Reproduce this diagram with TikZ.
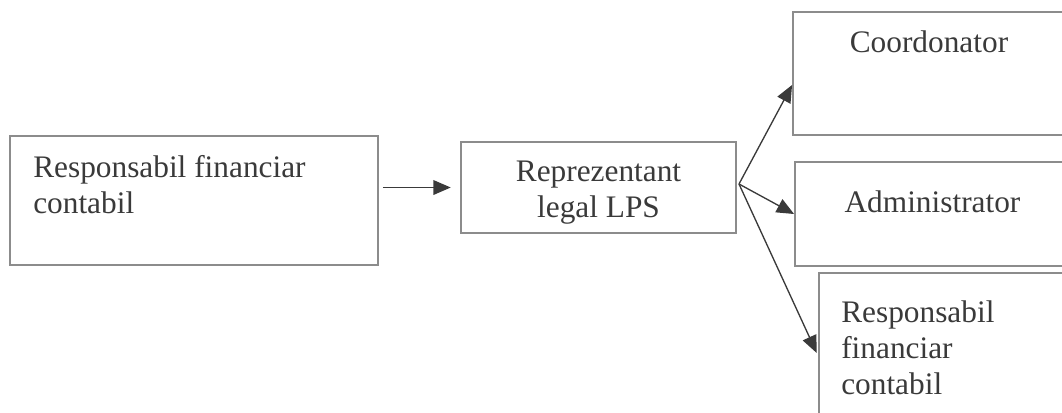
\documentclass[tikz,border=0pt]{standalone}
\usepackage{fontspec}
\setmainfont{Liberation Serif}
\usetikzlibrary{arrows.meta}

\definecolor{boxgray}{HTML}{8C8C8C}
\definecolor{inkgray}{HTML}{3A3A3A}

\tikzset{
	box/.style={draw=boxgray, line width=1.4pt, inner sep=0pt},
	txt/.style={text=inkgray, inner sep=0pt, font=\fontsize{23.5}{27}\selectfont},
	link/.style={draw=inkgray, line width=1pt, -{Triangle[length=13pt,width=11pt]}}
}

\begin{document}
\begin{tikzpicture}[x=0.75pt, y=-0.75pt]

	\useasboundingbox (0,0) rectangle (1062,412);
	\clip (0,0) rectangle (1062,412);

	\node[box, minimum width=276pt, minimum height=96.75pt] (resp) at (194,200.5) {};
	\node[box, minimum width=206.25pt, minimum height=68.25pt] (rep) at (598.5,187.5) {};
	\node[box, minimum width=204pt, minimum height=92.25pt] (coord) at (929,73.5) {};
	\node[box, minimum width=206.25pt, minimum height=78pt] (admin) at (932.5,214) {};
	\node[box, minimum width=203.25pt, minimum height=120pt] (fin) at (954.5,353) {};

	% first baselines at 177, 182 and 322
	\node[txt, anchor=north west, align=left] (resptxt) at (33,155.6) {Responsabil financiar\\contabil};
	\node[txt, anchor=north, align=center] (reptxt) at (598.5,161) {Reprezentant\\legal LPS};
	\node[txt, anchor=base] (coordtxt) at (929,52) {Coordonator};
	\node[txt, anchor=base] (admintxt) at (932.5,212) {Administrator};
	\node[txt, anchor=north west, align=left] (fintxt) at (841,300.6) {Responsabil\\financiar\\contabil};

	\coordinate (fork) at (739,184);

	\draw[link, shorten <=3pt, shorten >=7pt] (resp.east |- rep.west) -- (rep.west);
	\draw[link] (fork) -- ([yshift=-8.6pt]coord.west);
	\draw[link] (fork) -- (admin.west);
	\draw[link] (fork) -- ([xshift=-1pt]fin.west);

\end{tikzpicture}
\end{document}
